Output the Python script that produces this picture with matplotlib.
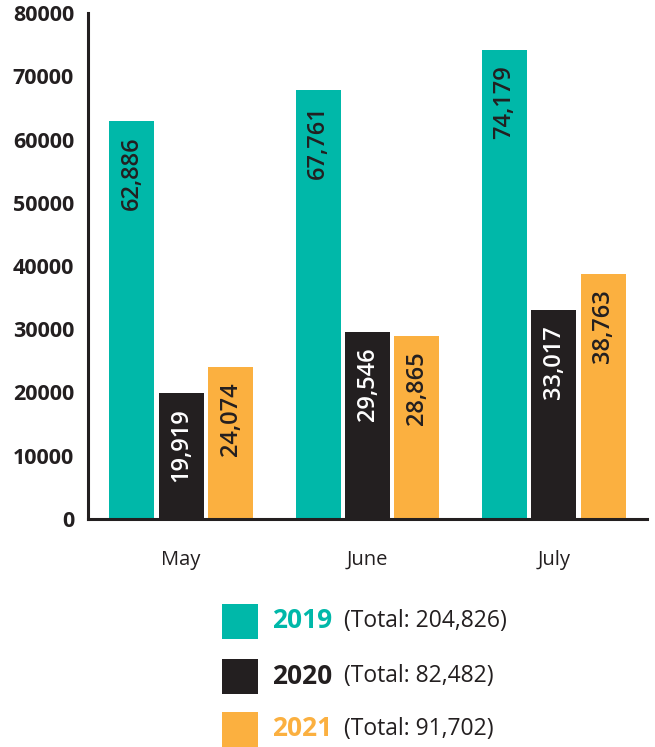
import matplotlib
matplotlib.use('Agg')
import matplotlib.pyplot as plt
from matplotlib.patches import Rectangle
import numpy as np

plt.rcParams['font.family'] = ['Open Sans', 'DejaVu Sans']

# data
months = ["May", "June", "July"]
years  = ["2019", "2020", "2021"]
v2019  = [62886, 67761, 74179]
v2020  = [19919, 29546, 33017]
v2021  = [24074, 28865, 38763]
totals = ["204,826", "82,482", "91,702"]
yticks = [0, 10000, 20000, 30000, 40000, 50000, 60000, 70000, 80000]

TEAL   = "#00B8A9"
DARK   = "#231F20"
ORANGE = "#FBB040"
colors = [TEAL, DARK, ORANGE]
label_colors = [DARK, "white", DARK]

fig = plt.figure(figsize=(6.55, 7.47), dpi=100)
ax = fig.add_axes([88/655, 1 - 519/747, 559/655, 506/747])

x = np.arange(len(months))
width = 0.241
step = 0.265

for k, vals in enumerate([v2019, v2020, v2021]):
    pos = x + (k - 1) * step
    bars = ax.bar(pos, vals, width=width, color=colors[k], linewidth=0)
    for b, v in zip(bars, vals):
        ax.annotate(f"{v:,}", (b.get_x() + b.get_width() / 2, v),
                    xytext=(0, -11), textcoords="offset points",
                    rotation=90, ha="center", va="top",
                    fontsize=17, fontweight="semibold", color=label_colors[k])

ax.set_xlim(-0.5, 2.5)
ax.set_ylim(0, 80000)
ax.set_yticks(yticks)
ax.set_yticklabels([str(t) for t in yticks], fontsize=15.5,
                   fontweight="bold", color=DARK)
ax.set_xticks(x)
ax.set_xticklabels(months, fontsize=14.5, color=DARK)
ax.tick_params(axis="y", length=0, pad=10)
ax.tick_params(axis="x", length=0, pad=22)

for s in ["top", "right"]:
    ax.spines[s].set_visible(False)
for s in ["left", "bottom"]:
    ax.spines[s].set_linewidth(2.2)
    ax.spines[s].set_color(DARK)

# legend
rows_y = [621, 676, 729]
for k, yr in enumerate(years):
    yc = 1 - rows_y[k] / 747
    fig.patches.append(Rectangle((222/655, yc - 17.5/747), 36/655, 35/747,
                                 transform=fig.transFigure,
                                 color=colors[k], linewidth=0))
    fig.text(272/655, yc, yr, fontsize=19, fontweight="bold",
             color=colors[k], va="center", ha="left")
    fig.text(344/655, yc, f"(Total: {totals[k]})", fontsize=16.5,
             color=DARK, va="center", ha="left")

plt.savefig("out.png", dpi=100)
